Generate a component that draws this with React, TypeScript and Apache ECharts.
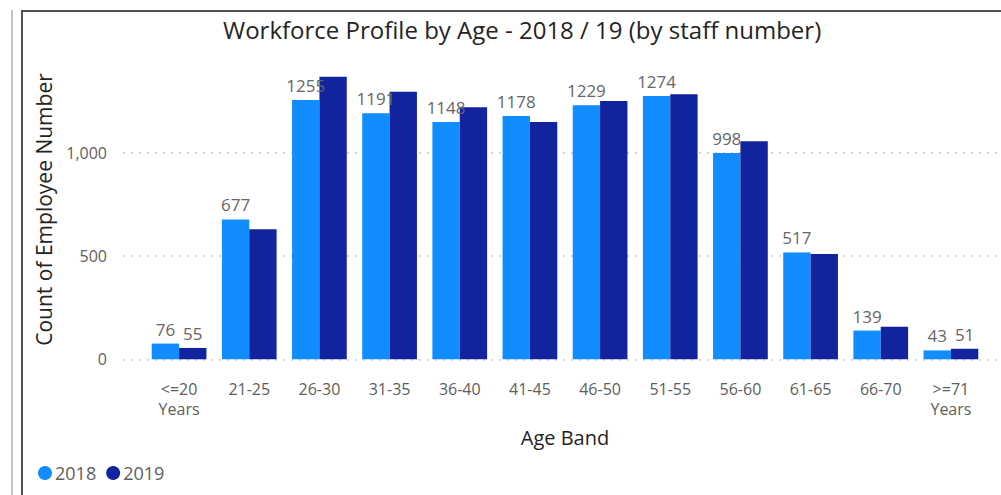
import React, { useEffect, useRef } from "react";
import * as echarts from "echarts";

const categories = ["<=20\nYears", "21-25", "26-30", "31-35", "36-40", "41-45", "46-50", "51-55", "56-60", "61-65", "66-70", ">=71\nYears"];
const values2018 = [76, 677, 1255, 1191, 1148, 1178, 1229, 1274, 998, 517, 139, 43];
const values2019 = [55, 630, 1368, 1295, 1220, 1149, 1250, 1283, 1055, 510, 158, 51];
const labeled2019 = [0, 11];
const yTicks = [0, 500, 1000];
const yMax = 1450;

const FONT = "'Open Sans', sans-serif";

export default function App() {
  const ref = useRef<HTMLDivElement>(null);
  useEffect(() => {
    if (!ref.current) return;
    const chart = echarts.init(ref.current, null, { renderer: "svg" });
    const gridTop = 59.7;
    const gridBottom = 135.7;
    chart.setOption({
      animation: false,
      textStyle: { fontFamily: FONT },
      title: {
        text: "Workforce Profile by Age - 2018 / 19 (by staff number)",
        left: 218,
        top: 12,
        textStyle: { fontFamily: FONT, fontSize: 24, fontWeight: "normal", color: "#252423" },
      },
      legend: {
        left: 33,
        top: 459,
        icon: "circle",
        itemWidth: 14,
        itemHeight: 14,
        itemGap: 10,
        textStyle: { fontFamily: FONT, fontSize: 18, color: "#605E5C", padding: [0, 0, 0, -2] },
        data: ["2018", "2019"],
      },
      grid: [
        { left: 123, right: 0, top: gridTop, bottom: gridBottom },
        { left: 144, right: 15, top: gridTop, bottom: gridBottom },
      ],
      xAxis: [
        { type: "value", gridIndex: 0, show: false, min: 0, max: 1 },
        {
          type: "category",
          gridIndex: 1,
          data: categories,
          axisLine: { show: false },
          axisTick: { show: false },
          axisLabel: { fontFamily: FONT, fontSize: 16, color: "#605E5C", lineHeight: 20, margin: 20, interval: 0 },
          name: "Age Band",
          nameLocation: "middle",
          nameGap: 68,
          nameTextStyle: { fontFamily: FONT, fontSize: 20, color: "#252423" },
        },
      ],
      yAxis: [
        {
          type: "value",
          gridIndex: 0,
          min: 0,
          max: yMax,
          interval: 500,
          axisLine: { show: false },
          axisTick: { show: false },
          axisLabel: {
            fontFamily: FONT,
            fontSize: 16,
            color: "#605E5C",
            margin: 16,
            showMaxLabel: false,
            formatter: (v: number) => (yTicks.includes(v) ? v.toLocaleString("en-US") : ""),
          },
          splitLine: { show: true, showMaxLine: false, lineStyle: { type: [2, 6], color: "#C8C8C8", width: 1.5 } },
          name: "Count of Employee Number",
          nameLocation: "middle",
          nameGap: 69,
          nameTextStyle: { fontFamily: FONT, fontSize: 21, color: "#252423" },
        },
        { type: "value", gridIndex: 1, min: 0, max: yMax, show: false, splitLine: { show: false } },
      ],
      series: [
        {
          name: "2018",
          type: "bar",
          xAxisIndex: 1,
          yAxisIndex: 1,
          data: values2018,
          barGap: "0%",
          barCategoryGap: "22%",
          itemStyle: { color: "#118DFF" },
          label: { show: true, position: "top", distance: 6, fontFamily: FONT, fontSize: 17, color: "#666666" },
        },
        {
          name: "2019",
          type: "bar",
          xAxisIndex: 1,
          yAxisIndex: 1,
          data: values2019.map((v, i) => ({
            value: v,
            label: { show: labeled2019.includes(i) },
          })),
          barGap: "0%",
          barCategoryGap: "22%",
          itemStyle: { color: "#12239E" },
          label: { show: false, position: "top", distance: 6, fontFamily: FONT, fontSize: 17, color: "#666666" },
        },
      ],
      graphic: [
        { type: "line", shape: { x1: 12, y1: 10, x2: 12, y2: 495 }, style: { stroke: "#B0B0B0", lineWidth: 1.5 } },
        { type: "rect", shape: { x: 22, y: 11, width: 1010, height: 500 }, style: { fill: "none", stroke: "#505050", lineWidth: 2 } },
      ],
    });
    return () => chart.dispose();
  }, []);
  return <div ref={ref} style={{ position: "absolute", left: 0, top: 0, width: 1001, height: 495, background: "#fff" }} />;
}
